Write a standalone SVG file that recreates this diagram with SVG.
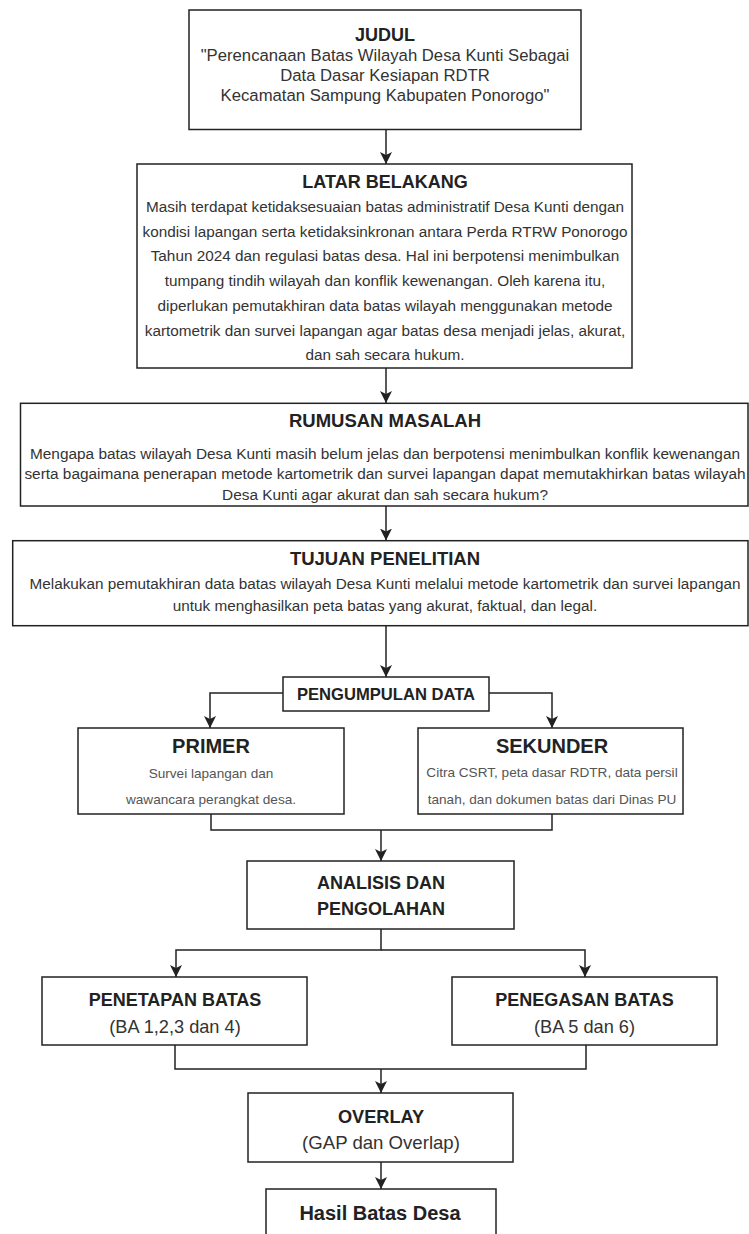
<svg xmlns="http://www.w3.org/2000/svg" width="749" height="1234" viewBox="0 0 749 1234">
<style>
.box{fill:#fff;stroke:#222;stroke-width:1.5}
.ttl{font-family:"Liberation Sans",Arial,sans-serif;font-weight:bold;fill:#222;text-anchor:middle}
.bd{font-family:"Liberation Sans",Arial,sans-serif;fill:#333;text-anchor:middle}
.sm{font-family:"Liberation Sans",Arial,sans-serif;fill:#555;text-anchor:middle;font-size:13.6px}
.con{fill:none;stroke:#222;stroke-width:1.5}
</style>
<defs>
<marker id="ah" markerUnits="userSpaceOnUse" markerWidth="12" markerHeight="12" refX="12" refY="6" orient="auto">
<path d="M0,0 L12,6 L0,12 L3,6 z" fill="#222"/>
</marker>
</defs>
<rect width="749" height="1234" fill="#fff"/>
<g id="connectors">
<path class="con" d="M386,130 V164" marker-end="url(#ah)"/>
<path class="con" d="M386,368 V403" marker-end="url(#ah)"/>
<path class="con" d="M386,506 V540.5" marker-end="url(#ah)"/>
<path class="con" d="M386,626 V677" marker-end="url(#ah)"/>
<path class="con" d="M283,693 H210 V728" marker-end="url(#ah)"/>
<path class="con" d="M489,693 H552 V728" marker-end="url(#ah)"/>
<path class="con" d="M211,814 V830 H552 V814"/>
<path class="con" d="M381,830 V861" marker-end="url(#ah)"/>
<path class="con" d="M381,929 V950 H176 V977" marker-end="url(#ah)"/>
<path class="con" d="M381,950 H585 V977" marker-end="url(#ah)"/>
<path class="con" d="M175,1045 V1069 H586 V1045"/>
<path class="con" d="M381,1069 V1093" marker-end="url(#ah)"/>
<path class="con" d="M381,1162 V1189" marker-end="url(#ah)"/>
</g>
<g id="judul">
<rect class="box" x="189" y="10" width="392" height="119.5"/>
<text class="ttl" x="385" y="40.5" font-size="18">JUDUL</text>
<text class="bd" x="385" y="61" font-size="16.7">"Perencanaan Batas Wilayah Desa Kunti Sebagai</text>
<text class="bd" x="385" y="81" font-size="16.7">Data Dasar Kesiapan RDTR</text>
<text class="bd" x="385" y="101" font-size="16.7">Kecamatan Sampung Kabupaten Ponorogo"</text>
</g>
<g id="latar">
<rect class="box" x="137" y="164" width="495" height="204"/>
<text class="ttl" x="385" y="188" font-size="18">LATAR BELAKANG</text>
<g class="bd" font-size="15.3">
<text x="385" y="212.2">Masih terdapat ketidaksesuaian batas administratif Desa Kunti dengan</text>
<text x="385" y="236.7">kondisi lapangan serta ketidaksinkronan antara Perda RTRW Ponorogo</text>
<text x="385" y="261.2">Tahun 2024 dan regulasi batas desa. Hal ini berpotensi menimbulkan</text>
<text x="385" y="285.7">tumpang tindih wilayah dan konflik kewenangan. Oleh karena itu,</text>
<text x="385" y="310.9">diperlukan pemutakhiran data batas wilayah menggunakan metode</text>
<text x="385" y="335.6">kartometrik dan survei lapangan agar batas desa menjadi jelas, akurat,</text>
<text x="385" y="360.3">dan sah secara hukum.</text>
</g>
</g>
<g id="rumusan">
<rect class="box" x="20.5" y="403.3" width="727.5" height="102.7"/>
<text class="ttl" x="385" y="427" font-size="18.5">RUMUSAN MASALAH</text>
<g class="bd" font-size="15.4">
<text x="385" y="458.8">Mengapa batas wilayah Desa Kunti masih belum jelas dan berpotensi menimbulkan konflik kewenangan</text>
<text x="385" y="478.8">serta bagaimana penerapan metode kartometrik dan survei lapangan dapat memutakhirkan batas wilayah</text>
<text x="385" y="499.5">Desa Kunti agar akurat dan sah secara hukum?</text>
</g>
</g>
<g id="tujuan">
<rect class="box" x="12.7" y="540.7" width="735.3" height="85"/>
<text class="ttl" x="385" y="564.7" font-size="18.5">TUJUAN PENELITIAN</text>
<g class="bd" font-size="15.3">
<text x="385" y="588.8">Melakukan pemutakhiran data batas wilayah Desa Kunti melalui metode kartometrik dan survei lapangan</text>
<text x="385" y="610.5">untuk menghasilkan peta batas yang akurat, faktual, dan legal.</text>
</g>
</g>
<g id="pengumpulan">
<rect class="box" x="283" y="677" width="206" height="34"/>
<text class="ttl" x="386" y="700" font-size="16.6">PENGUMPULAN DATA</text>
</g>
<g id="primer">
<rect class="box" x="78" y="728" width="266" height="86"/>
<text class="ttl" x="211" y="753" font-size="20">PRIMER</text>
<text class="sm" x="211" y="777.5">Survei lapangan dan</text>
<text class="sm" x="211" y="803.5">wawancara perangkat desa.</text>
</g>
<g id="sekunder">
<rect class="box" x="418" y="728" width="265" height="86"/>
<text class="ttl" x="552" y="753" font-size="20">SEKUNDER</text>
<text class="sm" x="552" y="777">Citra CSRT, peta dasar RDTR, data persil</text>
<text class="sm" x="552" y="804">tanah, dan dokumen batas dari Dinas PU</text>
</g>
<g id="analisis">
<rect class="box" x="247" y="861" width="267" height="68"/>
<text class="ttl" x="381" y="889" font-size="18">ANALISIS DAN</text>
<text class="ttl" x="381" y="914.5" font-size="18">PENGOLAHAN</text>
</g>
<g id="penetapan">
<rect class="box" x="42" y="977" width="265" height="68"/>
<text class="ttl" x="175" y="1005.5" font-size="18">PENETAPAN BATAS</text>
<text class="bd" x="175" y="1033" font-size="18.2" fill="#222">(BA 1,2,3 dan 4)</text>
</g>
<g id="penegasan">
<rect class="box" x="452" y="977" width="265" height="68"/>
<text class="ttl" x="584.5" y="1005.5" font-size="18">PENEGASAN BATAS</text>
<text class="bd" x="584.5" y="1033" font-size="18.2" fill="#222">(BA 5 dan 6)</text>
</g>
<g id="overlay">
<rect class="box" x="248" y="1093" width="265" height="69"/>
<text class="ttl" x="381" y="1122.5" font-size="18.2">OVERLAY</text>
<text class="bd" x="381" y="1149" font-size="18.6">(GAP dan Overlap)</text>
</g>
<g id="hasil">
<rect class="box" x="266" y="1189" width="230" height="60"/>
<text class="ttl" x="380" y="1220" font-size="20">Hasil Batas Desa</text>
</g>
</svg>
